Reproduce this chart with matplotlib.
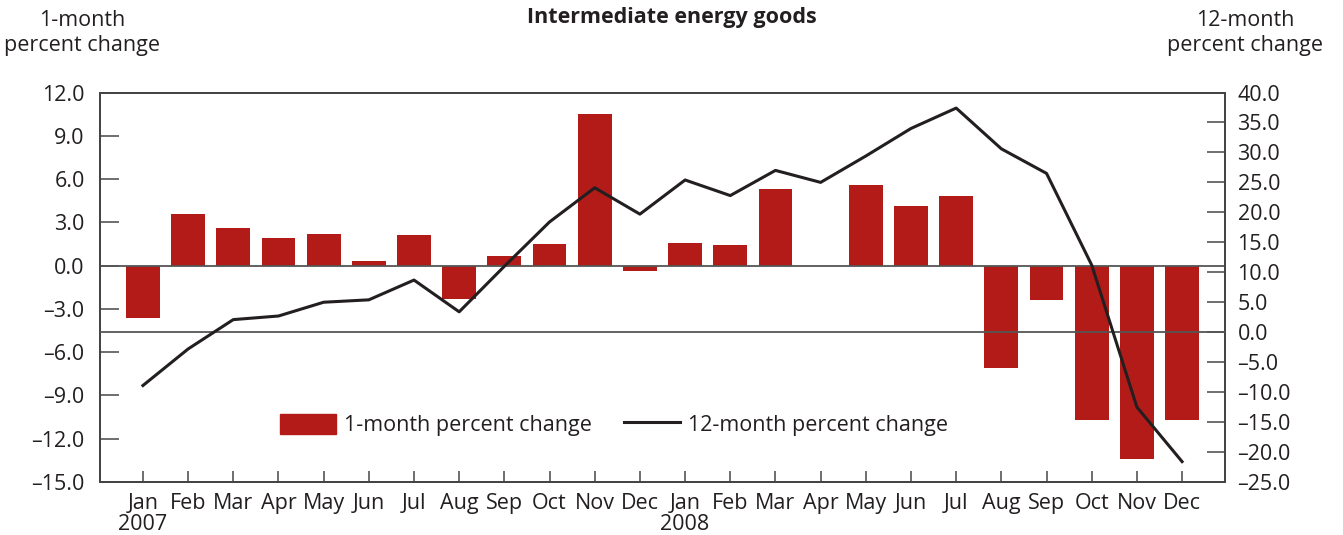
import numpy as np
import matplotlib
matplotlib.use("Agg")
import matplotlib.pyplot as plt
from matplotlib.patches import Patch
from matplotlib.lines import Line2D

plt.rcParams['font.family'] = ['Open Sans', 'DejaVu Sans']

# data
months = ["Jan", "Feb", "Mar", "Apr", "May", "Jun",
          "Jul", "Aug", "Sep", "Oct", "Nov", "Dec"] * 2
years = {0: "2007", 12: "2008"}
one_month = [-3.6, 3.6, 2.6, 1.9, 2.2, 0.3, 2.1, -2.3, 0.7, 1.5, 10.5, -0.4,
             1.55, 1.45, 5.3, 0.0, 5.6, 4.1, 4.85, -7.1, -2.4, -10.7, -13.4, -10.7]
twelve_month = [-8.9, -2.8, 2.1, 2.7, 5.0, 5.4, 8.7, 3.4, 11.0, 18.4, 24.1, 19.7,
                25.4, 22.8, 27.0, 25.0, 29.4, 34.0, 37.4, 30.6, 26.5, 11.2, -12.5, -21.6]
left_ticks = np.arange(-15, 12.1, 3)
right_ticks = np.arange(-25, 40.1, 5)

bar_col = "#B31B18"
ink = "#231F20"
fs = 15.5

def fmt(v):
    s = "%.1f" % abs(v)
    return ("\u2013" + s) if v < 0 else s

fig = plt.figure(figsize=(13.43, 5.35), dpi=100)
ax = fig.add_axes([100/1343, 1-482/535, 1125/1343, (482-92.5)/535])
ax2 = ax.twinx()

x = np.arange(len(months))
ax.bar(x, one_month, width=0.75, color=bar_col, zorder=2)
ax.axhline(0, color="#555555", lw=1.3, zorder=3)
ax.set_ylim(-15, 12)
ax.set_xlim(-0.95, 23.95)
ax.set_yticks(left_ticks)
ax.set_yticklabels([fmt(v) for v in left_ticks])

ax2.plot(x, twelve_month, color=ink, lw=2.2, zorder=4)
ax2.axhline(0, color="#555555", lw=1.3, zorder=3)
ax2.set_ylim(-25, 40)
ax2.set_yticks(right_ticks)
ax2.set_yticklabels([fmt(v) for v in right_ticks])

ax.set_xticks(x)
ax.set_xticklabels([m + ("\n" + years[i] if i in years else "") for i, m in enumerate(months)],
                   linespacing=1.0)

for a in (ax, ax2):
    for s in a.spines.values():
        s.set_color("#444444")
        s.set_linewidth(1.3)
ax.tick_params(axis="y", direction="in", length=14, width=1.2, color="#555555",
               labelsize=fs, labelcolor=ink, pad=11)
ax2.tick_params(axis="y", direction="in", length=13, width=1.2, color="#555555",
                labelsize=fs, labelcolor=ink, pad=9)
ax.tick_params(axis="x", direction="in", length=8, width=1.2, color="#555555",
               labelsize=fs, labelcolor=ink, pad=8)

fig.text(672/1343, 1-18/535, "Intermediate energy goods", ha="center", va="center",
         fontsize=fs, fontweight="bold", color=ink)
fig.text(82/1343, 1-33/535, "1-month\npercent change", ha="center", va="center",
         fontsize=fs, color=ink, linespacing=1.2)
fig.text(1245/1343, 1-33/535, "12-month\npercent change", ha="center", va="center",
         fontsize=fs, color=ink, linespacing=1.2)

handles = [Patch(color=bar_col), Line2D([0], [0], color=ink, lw=2.2)]
ax2.legend(handles, ["1-month percent change", "12-month percent change"],
           ncol=2, frameon=False, loc="center", bbox_to_anchor=(614/1343, 1-425/535),
           bbox_transform=fig.transFigure, fontsize=fs, handlelength=2.6,
           handleheight=1.1, columnspacing=1.5, handletextpad=0.35, labelcolor=ink)

fig.savefig("out.png", dpi=100)
